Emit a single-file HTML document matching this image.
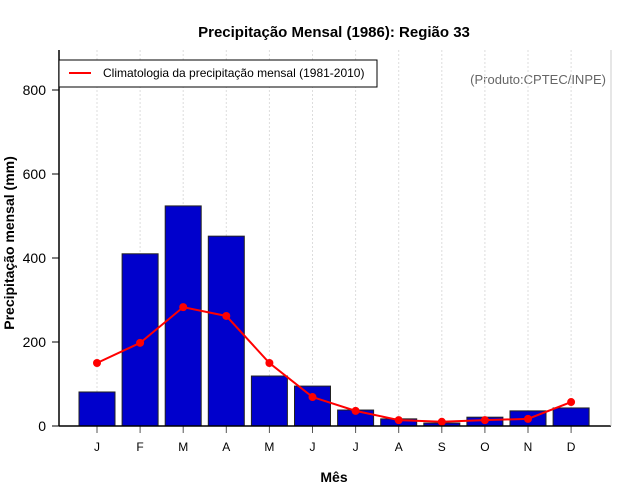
<!DOCTYPE html>
<html><head><meta charset="utf-8"><style>
body{margin:0;background:#fff}
svg{display:block;font-family:"Liberation Sans",sans-serif}
</style></head><body>
<svg id="chart" width="640" height="500">
<text x="334" y="37" text-anchor="middle" font-size="15" font-weight="bold">Precipitação Mensal (1986): Região 33</text>
<text x="334" y="482" text-anchor="middle" font-size="14" font-weight="bold">Mês</text>
<text transform="translate(14,243) rotate(-90)" text-anchor="middle" font-size="14" font-weight="bold">Precipitação mensal (mm)</text>
<text x="606" y="84" text-anchor="end" font-size="13" fill="#666">(Produto:CPTEC/INPE)</text>
<g id="grid"></g><g id="bars"></g><g id="line"></g><g id="axes"></g>
<g>
<rect x="59" y="60" width="318" height="27" fill="#fff" stroke="#000"/>
<line x1="69" y1="73" x2="91" y2="73" stroke="red" stroke-width="2"/>
<text x="103" y="77" font-size="12">Climatologia da precipitação mensal (1981-2010)</text>
</g>
</svg>
<script>
const months=["J","F","M","A","M","J","J","A","S","O","N","D"];
const precip=[81,410,524,452,119,95,38,17,7,21,36,43];
const climatology=[150,198,283,262,150,69,36,14,10,14,17,57];
const yTicks=[0,200,400,600,800];
const NS="http://www.w3.org/2000/svg";
const x=i=>97+i*43.1;
const y=v=>426-v*0.42;
function mk(t,a,p){const e=document.createElementNS(NS,t);for(const k in a)e.setAttribute(k,a[k]);p.appendChild(e);return e;}
const grid=document.getElementById('grid'),bars=document.getElementById('bars'),line=document.getElementById('line'),axes=document.getElementById('axes');
months.forEach((m,i)=>{
 const g=mk('line',{x1:x(i),x2:x(i),y1:50,y2:426,stroke:'#ddd','stroke-dasharray':'2,2'},grid);
 
 
 const b=mk('rect',{x:x(i)-18,y:y(precip[i]),width:36,height:426-y(precip[i]),fill:'#0000cc',stroke:'#222','stroke-width':1},bars);
 
 
 const tk=mk('line',{x1:x(i),x2:x(i),y1:426,y2:433,stroke:'#555'},axes);
 
 
 const tl=mk('text',{x:x(i),y:451,'text-anchor':'middle','font-size':12},axes);
 tl.textContent=m;
 
 
});
const pl=mk('polyline',{points:climatology.map((v,i)=>x(i)+','+y(v)).join(' '),fill:'none',stroke:'red','stroke-width':2},line);


climatology.forEach((v,i)=>{
 const c=mk('circle',{cx:x(i),cy:y(v),r:4,fill:'red'},line);
 
 
});
yTicks.forEach(v=>{
 const t=mk('line',{x1:52,x2:59,y1:y(v),y2:y(v),stroke:'#000'},axes);
 
 
 const l=mk('text',{x:46,y:y(v)+5,'text-anchor':'end','font-size':14},axes);
 l.textContent=v;
 
 
});
const ya=mk('line',{x1:59,x2:59,y1:50,y2:426,stroke:'#000','stroke-width':1.5},axes);


const xa=mk('line',{x1:59,x2:611,y1:426,y2:426,stroke:'#000','stroke-width':1.5},axes);


const rb=mk('line',{x1:611,x2:611,y1:50,y2:426,stroke:'#ccc'},axes);


</script>
</body></html>
